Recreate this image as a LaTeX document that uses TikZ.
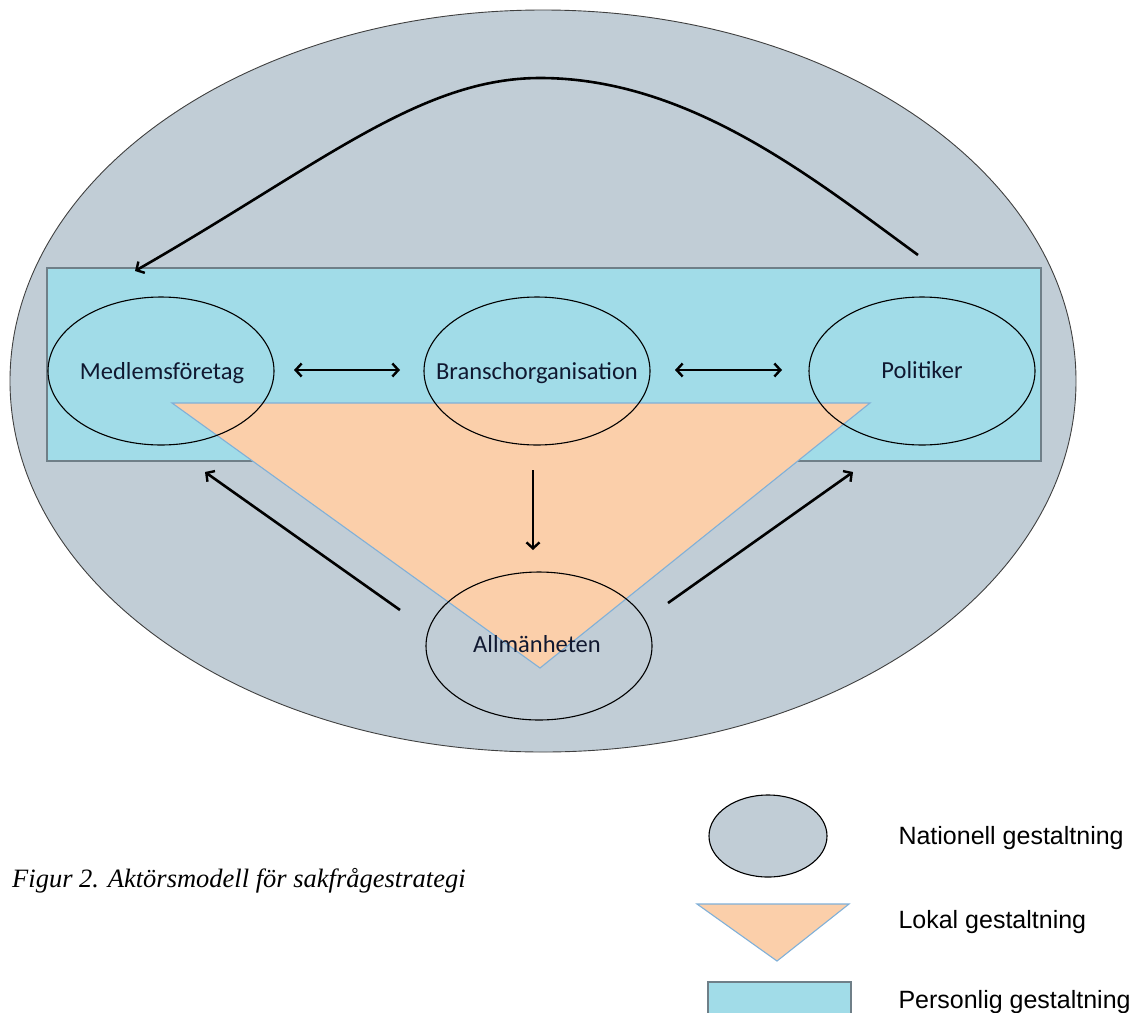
\documentclass[tikz,border=0pt]{standalone}
\usepackage{fontspec}
\setmainfont{Carlito}
\newfontfamily\arialf{Liberation Sans}
\newfontfamily\timesf{Liberation Serif}
\usetikzlibrary{arrows.meta,shapes.geometric}
\definecolor{natfill}{HTML}{C1CDD6}
\definecolor{persfill}{HTML}{A1DCE8}
\definecolor{persedge}{HTML}{6F7F88}
\definecolor{lokfill}{HTML}{FBCFAA}
\definecolor{lokedge}{HTML}{80B0D8}
\definecolor{txt}{HTML}{101830}
\begin{document}
\begin{tikzpicture}[x=1pt,y=-1pt,
  actor/.style={draw=black,line width=1.1pt,ellipse,minimum width=226pt,minimum height=148pt,inner sep=0pt},
  actortext/.style={anchor=base,inner sep=0pt,text=txt,font=\fontsize{24.5}{28}\selectfont},
  tip/.tip={Straight Barb[length=6pt,width=13pt,line width=2.4pt]},
  arr/.style={-tip,line width=2.6pt},
  darr/.style={tip-tip,line width=2.6pt},
  legtext/.style={anchor=west,font=\arialf\fontsize{25}{29}\selectfont}]
\useasboundingbox (0,0) rectangle (1134,1012);
\fill[white] (0,0) rectangle (1134,1012);
% national ellipse
\fill[natfill] (543,381) ellipse [x radius=533pt,y radius=371pt];
\draw[black!75,line width=0.9pt] (543,381) ellipse [x radius=533pt,y radius=371pt];
% personal rectangle
\draw[fill=persfill,draw=persedge,line width=1.6pt] (47,268) rectangle (1041,461);
% local triangle
\draw[fill=lokfill,draw=lokedge,line width=1.1pt] (172,403) -- (870,403) -- (540,668) -- cycle;
% actors
\node[actor] (med) at (161,371) {};
\node[actor] (bra) at (537,371) {};
\node[actor] (pol) at (922,371) {};
\node[actor] (all) at (539,646) {};
\node[actortext] (medt) at (162,379) {Medlemsföretag};
\node[actortext] (brat) at (537,379) {Branschorganisation};
\node[actortext] (polt) at (922,378) {Politiker};
\node[actortext] (allt) at (537,652) {Allmänheten};
% connectors
\coordinate (m1) at (294,370); \coordinate (b1) at (400,370);
\coordinate (b2) at (675,370); \coordinate (p1) at (782,370);
\draw[darr] (m1) -- (b1);
\draw[darr] (b2) -- (p1);
\coordinate (bd1) at (533,470); \coordinate (bd2) at (533,550);
\draw[arr] (bd1) -- (bd2);
\coordinate (a1) at (400,610); \coordinate (m2) at (205,472);
\draw[arr] (a1) -- (m2);
\coordinate (a2) at (668,603); \coordinate (p2) at (853,472);
\draw[arr] (a2) -- (p2);
\coordinate (cs) at (918,255); \coordinate (cp) at (540,78); \coordinate (ce) at (135,271);
\draw[arr] (cs) .. controls (815,180) and (690,78) .. (cp) .. controls (420,78) and (320,165) .. (ce);
% legend
\node[draw=black,line width=1.1pt,fill=natfill,ellipse,minimum width=118pt,minimum height=82pt] (lnat) at (768,836) {};
\draw[fill=lokfill,draw=lokedge,line width=1.1pt] (697,904) -- (849,904) -- (777,961) -- cycle;
\draw[fill=persfill,draw=persedge,line width=1.6pt] (708,982) rectangle (851,1030);
\node[legtext] (tnat) at (895,838) {Nationell gestaltning};
\node[legtext] (tlok) at (895,922) {Lokal gestaltning};
\node[legtext] (tper) at (895,1002) {Personlig gestaltning};
\node[anchor=base west,inner sep=0pt,font=\timesf\itshape\fontsize{26.5}{30}\selectfont] (cap) at (12,887) {Figur 2. Aktörsmodell för sakfrågestrategi};
\end{tikzpicture}
\end{document}
